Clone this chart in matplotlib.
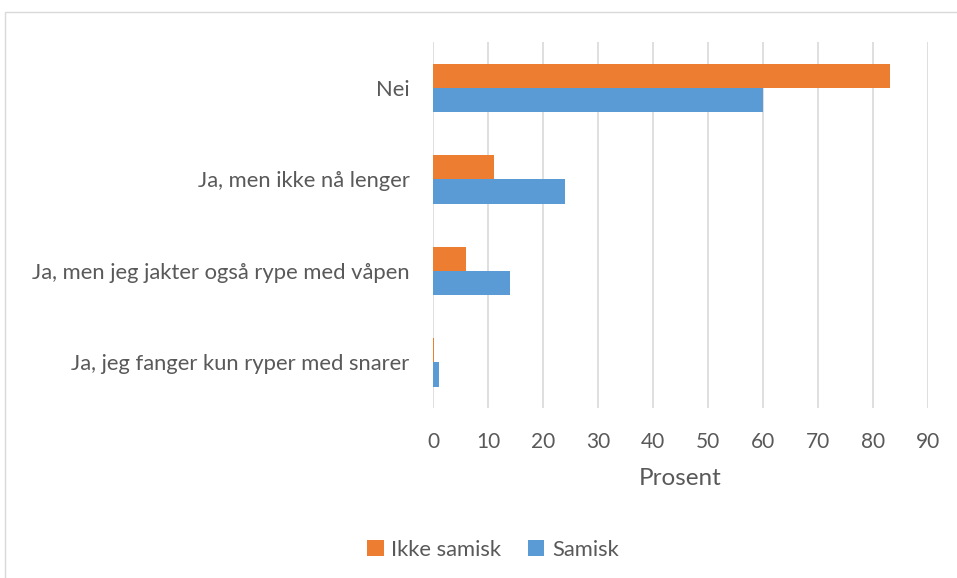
import numpy as np
import matplotlib.pyplot as plt
from matplotlib.patches import Rectangle

categories = ['Nei', 'Ja, men ikke nå lenger', 'Ja, men jeg jakter også rype med våpen',
              'Ja, jeg fanger kun ryper med snarer']
ikke_samisk = [83, 11, 6, 0.1]
samisk = [60, 24, 14, 1]
xticks = [0, 10, 20, 30, 40, 50, 60, 70, 80, 90]

plt.rcParams['font.family'] = ['Lato', 'DejaVu Sans']
grey = '#595959'

fig = plt.figure(figsize=(9.57, 5.78), dpi=100)
ax = fig.add_axes([0.4525, 0.2941, 0.9697 - 0.4525, 0.9273 - 0.2941])

# chart frame
fig.patches.append(Rectangle((5 / 957, -0.1), 2, 1 - 12 / 578 + 0.1, transform=fig.transFigure,
                             fill=False, edgecolor='#D9D9D9', linewidth=1))

y = np.arange(len(categories))
h = 0.265
ax.barh(y - h / 2, ikke_samisk, height=h, color='#ED7D31', label='Ikke samisk', zorder=3)
ax.barh(y + h / 2, samisk, height=h, color='#5B9BD5', label='Samisk', zorder=3)

ax.set_ylim(3.5, -0.5)
ax.set_xlim(0, 90)
ax.set_yticks(y)
ax.set_yticklabels(categories, fontsize=15.8, color=grey)
ax.set_xticks(xticks)
ax.set_xticklabels([str(t) for t in xticks], fontsize=15, color=grey)
ax.tick_params(axis='both', length=0)
ax.tick_params(axis='x', pad=17)
ax.tick_params(axis='y', pad=17)
ax.xaxis.grid(True, color='#D9D9D9', linewidth=1.2, zorder=0)
for s in ax.spines.values():
    s.set_visible(False)
ax.set_xlabel('Prosent', fontsize=17.5, color=grey, labelpad=12)

handles, labels = ax.get_legend_handles_labels()
fig.legend(handles, labels, loc='center', bbox_to_anchor=(493 / 957, 1 - 550 / 578), ncol=2,
           frameon=False, fontsize=15.8, labelcolor=grey, handlelength=0.75, handleheight=0.75,
           handletextpad=0.35, columnspacing=1.2)

fig.savefig('out.png', dpi=100)
